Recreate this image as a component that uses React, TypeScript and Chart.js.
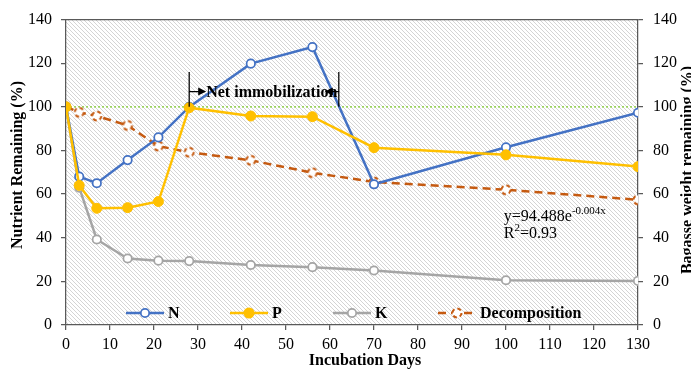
import React, { useEffect, useRef } from "react";
import { Chart, registerables } from "chart.js";

Chart.register(...registerables);

// ---- data ----
const days = [0, 3, 7, 14, 21, 28, 42, 56, 70, 100, 130];
const nValues = [100, 68, 65, 75.6, 86, 100, 119.8, 127.4, 64.5, 81.5, 97.3];
const pValues = [100, 64, 53.5, 53.8, 56.6, 99.6, 95.8, 95.5, 81.3, 78, 72.6];
const kValues = [100, 63, 39.2, 30.5, 29.5, 29.3, 27.5, 26.5, 25, 20.5, 20.2];
const decompValues = [100, 97.5, 95.8, 91.5, 82, 79.2, 75.5, 69.8, 65.6, 62, 57.4];
const referenceDays = [0, 130];
const referenceValues = [100, 100];
const seriesLabels = ["N", "P", "K", "Decomposition"];
const seriesColors = ["#4472C4", "#FFC000", "#A5A5A5", "#C55A11"];
const xRange = [0, 130];
const yRange = [0, 140];
const xStep = 10;
const yStep = 20;
const annotationText = "Net immobilization";
const annotationDays = [28, 62];
const annotationLevels = [116, 100, 107]; // top, bottom, arrow level
const equationMain = "y=94.488e";
const equationExp = "-0.004x";
const rSquaredText = "=0.93";
const equationAnchor = [99.5, 47.6, 39.8]; // x, y line1, y line2
const leftTitle = "Nutrient Remaining (%)";
const rightTitle = "Bagasse weight remaining (%)";
const xTitle = "Incubation Days";

const serif = '"Liberation Serif", "Times New Roman", serif';
const axisColor = "#595959";

function makeHatch(ctx: CanvasRenderingContext2D) {
  const s = 4;
  const c = document.createElement("canvas");
  c.width = s;
  c.height = s;
  const g = c.getContext("2d")!;
  g.fillStyle = "#ffffff";
  g.fillRect(0, 0, s, s);
  g.strokeStyle = "#d4d4d4";
  g.lineWidth = 1;
  g.beginPath();
  g.moveTo(-1, -1);
  g.lineTo(s + 1, s + 1);
  g.moveTo(s - 1, -1);
  g.lineTo(s + 1, 1);
  g.moveTo(-1, s - 1);
  g.lineTo(1, s + 1);
  g.stroke();
  return ctx.createPattern(c, "repeat");
}

function makeDashedMarker() {
  const c = document.createElement("canvas");
  c.width = 14;
  c.height = 14;
  const g = c.getContext("2d")!;
  g.beginPath();
  g.arc(7, 7, 4.5, 0, Math.PI * 2);
  g.fillStyle = "#ffffff";
  g.fill();
  g.setLineDash([4, 3]);
  g.strokeStyle = seriesColors[3];
  g.lineWidth = 2;
  g.stroke();
  return c;
}

function toPoints(xs: number[], ys: number[]) {
  return xs.map((x, i) => ({ x, y: ys[i] }));
}

export default function App() {
  const ref = useRef<HTMLCanvasElement>(null);

  useEffect(() => {
    document.body.style.margin = "0";
    const canvas = ref.current!;
    const ctx0 = canvas.getContext("2d")!;
    const hatch = makeHatch(ctx0);
    const decompMarker = makeDashedMarker();

    const drawMarker = (ctx: CanvasRenderingContext2D, i: number, x: number, y: number) => {
      if (i === 3) {
        ctx.drawImage(decompMarker, x - 7, y - 7);
        return;
      }
      ctx.beginPath();
      if (i === 1) {
        ctx.arc(x, y, 5.5, 0, Math.PI * 2);
        ctx.fillStyle = seriesColors[1];
        ctx.fill();
      } else {
        ctx.arc(x, y, 4.2, 0, Math.PI * 2);
        ctx.fillStyle = "#ffffff";
        ctx.fill();
        ctx.lineWidth = 1.75;
        ctx.strokeStyle = seriesColors[i];
        ctx.stroke();
      }
    };

    const overlay = {
      id: "overlay",
      beforeDraw(chart: any) {
        const { ctx, chartArea: a } = chart;
        ctx.save();
        ctx.fillStyle = hatch || "#eeeeee";
        ctx.fillRect(a.left, a.top, a.right - a.left, a.bottom - a.top);
        ctx.restore();
      },
      afterDraw(chart: any) {
        const { ctx, chartArea: a } = chart;
        const xs = chart.scales.x;
        const ys = chart.scales.y;
        ctx.save();
        // top border
        ctx.strokeStyle = axisColor;
        ctx.lineWidth = 1.25;
        ctx.beginPath();
        ctx.moveTo(a.left, a.top);
        ctx.lineTo(a.right, a.top);
        ctx.stroke();

        // titles
        ctx.fillStyle = "#000";
        ctx.font = `bold 16px ${serif}`;
        ctx.textAlign = "center";
        ctx.textBaseline = "alphabetic";
        ctx.save();
        ctx.translate(22, 165);
        ctx.rotate(-Math.PI / 2);
        ctx.fillText(leftTitle, 0, 0);
        ctx.restore();
        ctx.save();
        ctx.translate(692, 170);
        ctx.rotate(-Math.PI / 2);
        ctx.fillText(rightTitle, 0, 0);
        ctx.restore();
        ctx.textBaseline = "middle";
        ctx.fillText(xTitle, 365, 361);

        // annotation
        const x1 = xs.getPixelForValue(annotationDays[0]);
        const x2 = xs.getPixelForValue(annotationDays[1]);
        const yT = ys.getPixelForValue(annotationLevels[0]);
        const yB = ys.getPixelForValue(annotationLevels[1]);
        const yM = ys.getPixelForValue(annotationLevels[2]);
        ctx.strokeStyle = "#000";
        ctx.lineWidth = 1.25;
        ctx.beginPath();
        ctx.moveTo(x1, yT);
        ctx.lineTo(x1, yB);
        ctx.moveTo(x2, yT);
        ctx.lineTo(x2, yB);
        ctx.moveTo(x1, yM);
        ctx.lineTo(x1 + 10, yM);
        ctx.moveTo(x2, yM);
        ctx.lineTo(x2 - 8, yM);
        ctx.stroke();
        ctx.fillStyle = "#000";
        ctx.beginPath();
        ctx.moveTo(x1 + 17, yM);
        ctx.lineTo(x1 + 9, yM - 4);
        ctx.lineTo(x1 + 9, yM + 4);
        ctx.closePath();
        ctx.fill();
        ctx.beginPath();
        ctx.moveTo(x2 - 14, yM);
        ctx.lineTo(x2 - 6, yM - 4);
        ctx.lineTo(x2 - 6, yM + 4);
        ctx.closePath();
        ctx.fill();
        ctx.font = `bold 16px ${serif}`;
        ctx.textAlign = "left";
        ctx.textBaseline = "middle";
        ctx.fillText(annotationText, x1 + 17, yM + 1);

        // equation
        const ex = xs.getPixelForValue(equationAnchor[0]);
        const ey1 = ys.getPixelForValue(equationAnchor[1]);
        const ey2 = ys.getPixelForValue(equationAnchor[2]);
        ctx.textBaseline = "alphabetic";
        ctx.font = `16px ${serif}`;
        ctx.fillText(equationMain, ex, ey1);
        let w = ctx.measureText(equationMain).width;
        ctx.font = `11px ${serif}`;
        ctx.fillText(equationExp, ex + w, ey1 - 7);
        ctx.font = `16px ${serif}`;
        ctx.fillText("R", ex, ey2);
        w = ctx.measureText("R").width;
        ctx.font = `11px ${serif}`;
        ctx.fillText("2", ex + w, ey2 - 7);
        const w2 = ctx.measureText("2").width;
        ctx.font = `16px ${serif}`;
        ctx.fillText(rSquaredText, ex + w + w2, ey2);

        // legend
        const starts = [126, 230, 333, 438];
        const ly = 313;
        ctx.font = `bold 16px ${serif}`;
        ctx.textBaseline = "middle";
        seriesLabels.forEach((label, i) => {
          const sx = starts[i];
          const len = 38;
          ctx.save();
          ctx.strokeStyle = seriesColors[i];
          ctx.lineWidth = 2.5;
          if (i === 3) ctx.setLineDash([8, 5]);
          ctx.beginPath();
          ctx.moveTo(sx, ly);
          ctx.lineTo(sx + len, ly);
          ctx.stroke();
          ctx.restore();
          drawMarker(ctx, i, sx + len / 2, ly);
          ctx.fillStyle = "#000";
          ctx.textAlign = "left";
          ctx.fillText(label, sx + len + 4, ly + 1);
        });
        ctx.restore();
      },
    };

    const tickFont = { family: serif, size: 16 };
    const common = {
      borderWidth: 2.5,
      tension: 0,
      fill: false,
    };

    const chart = new Chart(canvas, {
      type: "line",
      data: {
        datasets: [
          {
            ...common,
            label: seriesLabels[0],
            data: toPoints(days, nValues),
            borderColor: seriesColors[0],
            pointBackgroundColor: "#ffffff",
            pointBorderColor: seriesColors[0],
            pointBorderWidth: 1.75,
            pointRadius: 4.2,
            order: 1,
            yAxisID: "y",
          },
          {
            ...common,
            label: seriesLabels[1],
            data: toPoints(days, pValues),
            borderColor: seriesColors[1],
            pointBackgroundColor: seriesColors[1],
            pointBorderColor: seriesColors[1],
            pointBorderWidth: 1,
            pointRadius: 5,
            order: 0,
            yAxisID: "y",
          },
          {
            ...common,
            label: seriesLabels[2],
            data: toPoints(days, kValues),
            borderColor: seriesColors[2],
            pointBackgroundColor: "#ffffff",
            pointBorderColor: seriesColors[2],
            pointBorderWidth: 1.75,
            pointRadius: 4.2,
            order: 2,
            yAxisID: "y",
          },
          {
            ...common,
            label: seriesLabels[3],
            data: toPoints(days, decompValues),
            borderColor: seriesColors[3],
            borderDash: [8, 5],
            pointStyle: decompMarker,
            pointRadius: 5,
            order: 3,
            yAxisID: "y1",
          },
          {
            label: "ref",
            data: toPoints(referenceDays, referenceValues),
            borderColor: "#92D050",
            borderWidth: 1.5,
            borderDash: [2, 2],
            pointRadius: 0,
            fill: false,
            order: 4,
            yAxisID: "y",
          },
        ],
      },
      options: {
        responsive: false,
        animation: false,
        devicePixelRatio: 1,
        layout: { padding: { top: 16, left: 0, right: 0, bottom: 0 } },
        plugins: {
          legend: { display: false },
          tooltip: { enabled: false },
        },
        events: [],
        scales: {
          x: {
            type: "linear",
            min: xRange[0],
            max: xRange[1],
            ticks: { stepSize: xStep, font: tickFont, color: "#000", padding: 5, maxRotation: 0 },
            grid: { display: true, drawOnChartArea: false, drawTicks: true, tickLength: 5, color: axisColor, lineWidth: 1.25 },
            border: { display: true, color: axisColor, width: 1.25 },
            afterFit(s: any) {
              s.height = 47;
            },
          },
          y: {
            type: "linear",
            position: "left",
            min: yRange[0],
            max: yRange[1],
            ticks: { stepSize: yStep, font: tickFont, color: "#000", padding: 9 },
            grid: { display: true, drawOnChartArea: false, drawTicks: true, tickLength: 5, color: axisColor, lineWidth: 1.25 },
            border: { display: true, color: axisColor, width: 1.25 },
            afterFit(s: any) {
              s.width = 66;
            },
          },
          y1: {
            type: "linear",
            position: "right",
            min: yRange[0],
            max: yRange[1],
            ticks: { stepSize: yStep, font: tickFont, color: "#000", padding: 10 },
            grid: { display: true, drawOnChartArea: false, drawTicks: true, tickLength: 5, color: axisColor, lineWidth: 1.25 },
            border: { display: true, color: axisColor, width: 1.25 },
            afterFit(s: any) {
              s.width = 53;
            },
          },
        },
      },
      plugins: [overlay],
    } as any);

    return () => chart.destroy();
  }, []);

  return (
    <canvas
      ref={ref}
      width={691}
      height={372}
      style={{ display: "block", width: 691, height: 372 }}
    />
  );
}
